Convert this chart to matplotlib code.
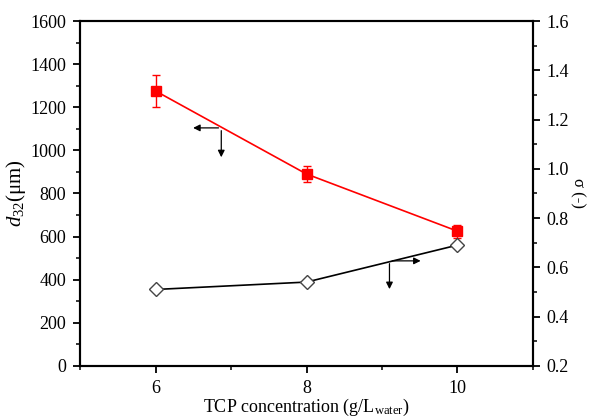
import numpy as np
import matplotlib
matplotlib.use("Agg")
import matplotlib.pyplot as plt
from matplotlib.ticker import MultipleLocator

plt.rcParams['font.family'] = ['Liberation Serif', 'DejaVu Serif']
plt.rcParams['mathtext.fontset'] = 'custom'
plt.rcParams['mathtext.rm'] = 'Liberation Serif'
plt.rcParams['mathtext.it'] = 'Liberation Serif:italic'

# data
conc = [6, 8, 10]
d32 = [1275, 890, 625]
d32_err = [75, 35, 30]
sigma = [0.51, 0.54, 0.69]

fig = plt.figure(figsize=(5.9, 4.2), dpi=100)
ax = fig.add_axes([0.136, 0.129, 0.767, 0.821])
ax2 = ax.twinx()

# d32 with error bars
ax.errorbar(conc, d32, yerr=d32_err, color='red', marker='s', markersize=7,
            linewidth=1.2, capsize=3, elinewidth=1, zorder=3)

# sigma
ax2.plot(conc, sigma, color='black', marker='D', markersize=7,
         markerfacecolor='white', markeredgecolor='#444444', linewidth=1.2)

ax.set_xlim(5, 11)
ax.set_ylim(0, 1600)
ax2.set_ylim(0.2, 1.6)

ax.xaxis.set_major_locator(MultipleLocator(2))
ax.xaxis.set_minor_locator(MultipleLocator(1))
ax.yaxis.set_major_locator(MultipleLocator(200))
ax.yaxis.set_minor_locator(MultipleLocator(100))
ax2.yaxis.set_major_locator(MultipleLocator(0.2))
ax2.yaxis.set_minor_locator(MultipleLocator(0.1))

for a in (ax, ax2):
    for s in a.spines.values():
        s.set_linewidth(1.5)
    a.tick_params(which='major', direction='out', length=5, width=1.3,
                  labelsize=13, pad=5)
    a.tick_params(which='minor', direction='out', length=3, width=1.1)

ax.set_xticks([6, 8, 10])
ax.set_xticklabels(['6', '8', '10'])
ax.set_xlabel(r'TCP concentration (g/L$_{\mathrm{water}}$)', fontsize=13, labelpad=0)
ax.set_ylabel(r'$d_{32}$(μm)', fontsize=15, labelpad=2)
ax2.set_ylabel('σ (-)', fontsize=12, rotation=270, labelpad=12)

# indicator arrows
ap = dict(arrowstyle='-|>', color='black', lw=0.9, mutation_scale=10)
ax.annotate('', xy=(6.46, 1104), xytext=(6.87, 1104), arrowprops=ap)
ax.annotate('', xy=(6.87, 955), xytext=(6.87, 1104), arrowprops=ap)
ax.annotate('', xy=(9.55, 487), xytext=(9.10, 487), arrowprops=ap)
ax.annotate('', xy=(9.10, 343), xytext=(9.10, 487), arrowprops=ap)

fig.savefig('out.png', dpi=100)
